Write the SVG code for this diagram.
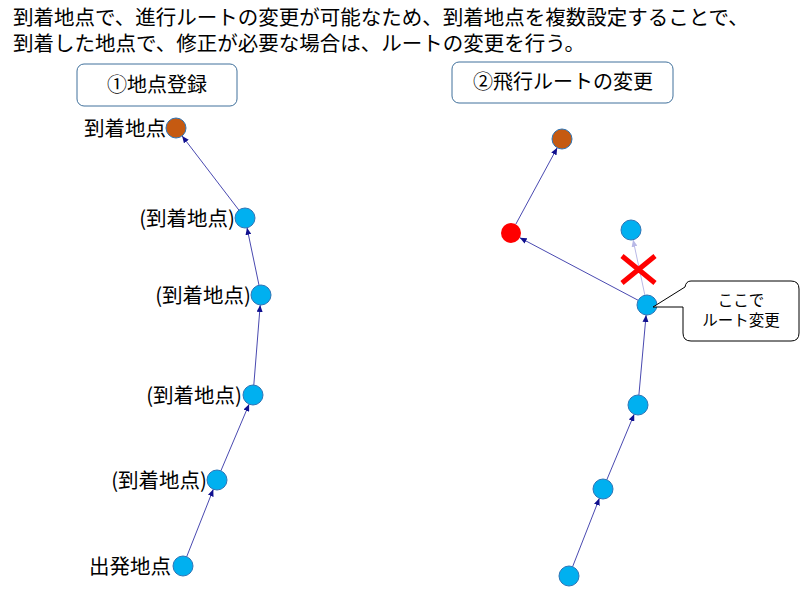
<svg xmlns="http://www.w3.org/2000/svg" width="800" height="594" viewBox="0 0 800 594">
<style>
text{font-family:"Noto Sans CJK JP","Noto Sans",sans-serif;fill:#000}
.t{font-size:20.5px}
.lbl{font-size:20.5px;text-anchor:end}
.hd{font-size:20px;text-anchor:middle}
.cl{font-size:15.5px;text-anchor:middle}
.box{fill:#fff;stroke:#41719C;stroke-width:1}
.blue{fill:#00B0F0;stroke:#2E75B6;stroke-width:1}
.brown{fill:#C55A11;stroke:#2E75B6;stroke-width:1}
.red{fill:#FF0000}
.ar{stroke:#1A1A9C;stroke-width:0.8;fill:none;marker-end:url(#ah)}
.arl{stroke:#B8B8E6;stroke-width:1;fill:none;marker-end:url(#ahl)}
</style>
<defs>
<marker id="ah" markerUnits="userSpaceOnUse" markerWidth="7" markerHeight="6" refX="7" refY="3" orient="auto"><path d="M0,0 L7,3 L0,6 z" fill="#10108F"/></marker>
<marker id="ahl" markerUnits="userSpaceOnUse" markerWidth="7" markerHeight="6" refX="7" refY="3" orient="auto"><path d="M0,0 L7,3 L0,6 z" fill="#B8B8E6"/></marker>
</defs>
<rect width="800" height="594" fill="#fff"/>
<g id="caption">
<text class="t" x="13" y="25">到着地点で、進行ルートの変更が可能なため、到着地点を複数設定することで、</text>
<text class="t" x="13" y="51">到着した地点で、修正が必要な場合は、ルートの変更を行う。</text>
</g>
<g id="head1"><rect class="box" x="77" y="64" width="160" height="42" rx="7"/><text class="hd" x="157" y="92">①地点登録</text></g>
<g id="head2"><rect class="box" x="452" y="62" width="221" height="41" rx="7"/><text class="hd" x="563" y="89">②飛行ルートの変更</text></g>
<g id="connectors">
<line class="ar" x1="186.7" y1="556.7" x2="213.3" y2="489.3"/>
<line class="ar" x1="220.9" y1="470.8" x2="249.1" y2="404.2"/>
<line class="ar" x1="253.8" y1="385.0" x2="260.2" y2="305.0"/>
<line class="ar" x1="259.0" y1="285.2" x2="247.0" y2="227.8"/>
<line class="ar" x1="238.9" y1="210.1" x2="182.1" y2="135.9"/>
<line class="ar" x1="572.6" y1="566.7" x2="599.4" y2="498.3"/>
<line class="ar" x1="606.8" y1="479.8" x2="634.2" y2="414.2"/>
<line class="ar" x1="638.9" y1="395.0" x2="646.1" y2="315.0"/>
<line class="ar" x1="638.2" y1="300.3" x2="519.8" y2="237.7"/>
<line class="ar" x1="515.8" y1="224.2" x2="557.2" y2="147.8"/>
<line class="arl" x1="644.9" y1="295.2" x2="633.1" y2="239.8"/>
</g>
<g id="n1"><circle class="brown" cx="176" cy="128" r="10"/><text class="lbl" x="166" y="136">到着地点</text></g>
<g id="n2"><circle class="blue" cx="245" cy="218" r="10"/><text class="lbl" x="235" y="226">(到着地点)</text></g>
<g id="n3"><circle class="blue" cx="261" cy="295" r="10"/><text class="lbl" x="251" y="303">(到着地点)</text></g>
<g id="n4"><circle class="blue" cx="253" cy="395" r="10"/><text class="lbl" x="242" y="403">(到着地点)</text></g>
<g id="n5"><circle class="blue" cx="217" cy="480" r="10"/><text class="lbl" x="207" y="488">(到着地点)</text></g>
<g id="n6"><circle class="blue" cx="183" cy="566" r="10"/><text class="lbl" x="171" y="574">出発地点</text></g>
<g id="m1"><circle class="brown" cx="562" cy="139" r="10"/></g>
<g id="m2"><circle class="red" cx="511" cy="233" r="10"/></g>
<g id="m3"><circle class="blue" cx="631" cy="230" r="10"/></g>
<g id="m4"><circle class="blue" cx="647" cy="305" r="10"/></g>
<g id="m5"><circle class="blue" cx="638" cy="405" r="10"/></g>
<g id="m6"><circle class="blue" cx="603" cy="489" r="10"/></g>
<g id="m7"><circle class="blue" cx="569" cy="576" r="10"/></g>
<g id="cross"><path d="M622,256 L655,283 M655,256 L622,283" stroke="#FF0000" stroke-width="5" fill="none"/></g>
<g id="callout">
<path d="M691,281 H791 Q799,281 799,289 V333 Q799,341 791,341 H691 Q683,341 683,333 V307 L653,307 L685,287 Q686,281 691,281 Z" fill="#fff" stroke="#000" stroke-width="1"/>
<text class="cl" x="741" y="306">ここで</text>
<text class="cl" x="741" y="326">ルート変更</text>
</g>
</svg>
